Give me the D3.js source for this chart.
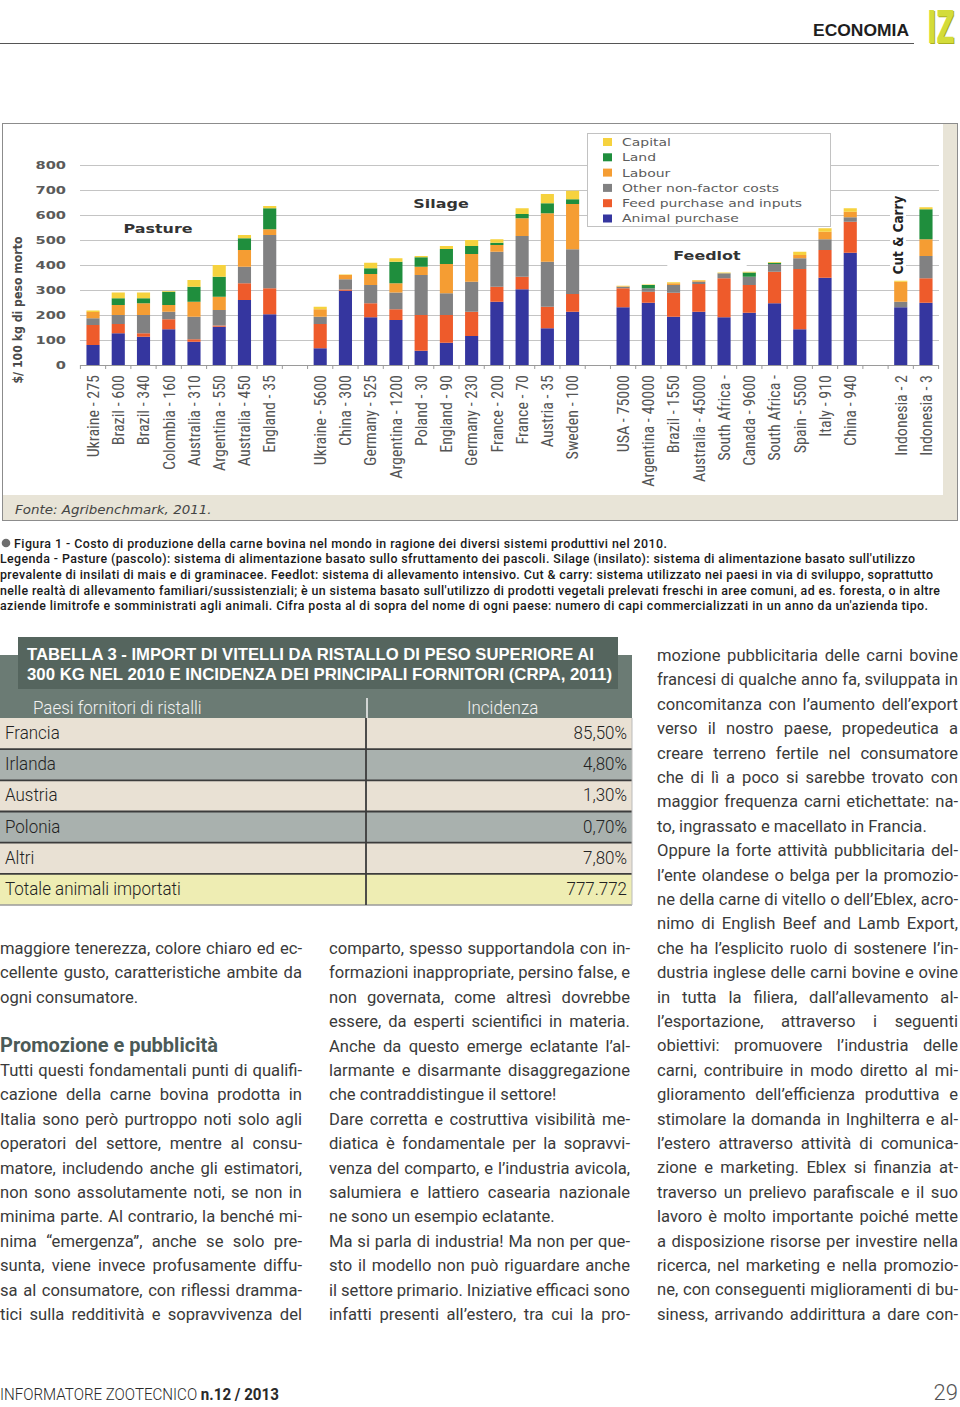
<!DOCTYPE html>
<html><head><meta charset="utf-8">
<script src="https://cdn.jsdelivr.net/npm/d3@7/dist/d3.min.js"></script>
<style>html,body{margin:0;padding:0;background:#fff}svg{display:block}</style>
</head><body>
<script>
// ---------------- DATA ----------------
const categories = [
  "Ukraine - 275","Brazil - 600","Brazil - 340","Colombia - 160","Australia - 310","Argentina - 550","Australia - 450","England - 35",
  "Ukraine - 5600","China - 300","Germany - 525","Argentina - 1200","Poland - 30","England - 90","Germany - 230","France - 200","France - 70","Austria - 35","Sweden - 100",
  "USA - 75000","Argentina - 40000","Brazil - 1550","Australia - 45000","South Africa -","Canada - 9600","South Africa -","Spain - 5500","Italy - 910","China - 940",
  "Indonesia - 2","Indonesia - 3"];
const groups = ["Pasture","Silage","Feedlot","Cut & Carry"];
const groupCounts = [8, 11, 10, 2];
const seriesKeys = ["Animal purchase","Feed purchase and inputs","Other non-factor costs","Labour","Land","Capital"];
const animalPurchase = [80,127,113,143,93,153,260,203, 67,297,191,180,57,89,116,253,303,147,213, 231,249,193,213,191,209,247,143,349,449, 231,249];
const feedPurchase   = [80,37,14,40,10,5,67,104, 97,5,56,43,143,111,97,60,50,86,71, 76,44,96,111,156,111,126,241,111,124, 0,98];
const otherCosts     = [27,36,73,30,90,62,66,213, 29,41,73,67,160,87,120,140,163,180,179, 6,14,31,9,20,33,31,43,43,18, 22,89];
const labour         = [25,40,47,27,60,53,67,23, 30,17,44,37,33,117,111,27,71,194,181, 2,0,7,5,0,0,0,13,30,22, 80,67];
const land           = [0,27,20,53,60,80,47,84, 0,0,23,86,38,60,32,9,17,40,19, 0,13,0,0,0,17,5,0,0,0, 0,120];
const capital        = [6,23,23,3,27,47,13,9, 10,2,22,14,5,12,24,14,23,37,34, 2,2,4,2,3,3,3,13,14,14, 4,8];
const yTicks = [0,100,200,300,400,500,600,700,800];
const legendOrder = ["Capital","Land","Labour","Other non-factor costs","Feed purchase and inputs","Animal purchase"];
const colors = {"Animal purchase":"#35369f","Feed purchase and inputs":"#ee5b2b","Other non-factor costs":"#818182","Labour":"#f59d33","Land":"#1f8e3d","Capital":"#f6d23e"};

const tableTitle = ["TABELLA 3 - IMPORT DI VITELLI DA RISTALLO DI PESO SUPERIORE AI","300 KG NEL 2010 E INCIDENZA DEI PRINCIPALI FORNITORI (CRPA, 2011)"];
const tableHeader = ["Paesi fornitori di ristalli","Incidenza"];
const tableCountries = ["Francia","Irlanda","Austria","Polonia","Altri","Totale animali importati"];
const tableValues = ["85,50%","4,80%","1,30%","0,70%","7,80%","777.772"];

const captionLines = [
 "Figura 1 - Costo di produzione della carne bovina nel mondo in ragione dei diversi sistemi produttivi nel 2010.",
 "Legenda - Pasture (pascolo): sistema di alimentazione basato sullo sfruttamento dei pascoli. Silage (insilato): sistema di alimentazione basato sull'utilizzo",
 "prevalente di insilati di mais e di graminacee. Feedlot: sistema di allevamento intensivo. Cut & carry: sistema utilizzato nei paesi in via di sviluppo, soprattutto",
 "nelle realtà di allevamento familiari/sussistenziali; è un sistema basato sull'utilizzo di prodotti vegetali prelevati freschi in aree comuni, ad es. foresta, o in altre",
 "aziende limitrofe e somministrati agli animali. Cifra posta al di sopra del nome di ogni paese: numero di capi commercializzati in un anno da un'azienda tipo."];

const col1 = ["maggiore tenerezza, colore chiaro ed ec-","cellente gusto, caratteristiche ambite da","ogni consumatore.","",
 "Promozione e pubblicità",
 "Tutti questi fondamentali punti di qualifi-","cazione della carne bovina prodotta in","Italia sono però purtroppo noti solo agli",
 "operatori del settore, mentre al consu-","matore, includendo anche gli estimatori,","non sono assolutamente noti, se non in",
 "minima parte. Al contrario, la benché mi-","nima “emergenza”, anche se solo pre-","sunta, viene invece profusamente diffu-",
 "sa al consumatore, con riflessi dramma-","tici sulla redditività e sopravvivenza del"];
const col2 = ["comparto, spesso supportandola con in-","formazioni inappropriate, persino false, e","non governata, come altresì dovrebbe",
 "essere, da esperti scientifici in materia.","Anche da questo emerge eclatante l’al-","larmante e disarmante disaggregazione",
 "che contraddistingue il settore!","Dare corretta e costruttiva visibilità me-","diatica è fondamentale per la sopravvi-",
 "venza del comparto, e l’industria avicola,","salumiera e lattiero casearia nazionale","ne sono un esempio eclatante.",
 "Ma si parla di industria! Ma non per que-","sto il modello non può riguardare anche","il settore primario. Iniziative efficaci sono",
 "infatti presenti all’estero, tra cui la pro-"];
const col3 = ["mozione pubblicitaria delle carni bovine","francesi di qualche anno fa, sviluppata in","concomitanza con l’aumento dell’export",
 "verso il nostro paese, propedeutica a","creare terreno fertile nel consumatore","che di lì a poco si sarebbe trovato con",
 "maggior frequenza carni etichettate: na-","to, ingrassato e macellato in Francia.","Oppure la forte attività pubblicitaria del-",
 "l’ente olandese o belga per la promozio-","ne della carne di vitello o dell’Eblex, acro-","nimo di English Beef and Lamb Export,",
 "che ha l’esplicito ruolo di sostenere l’in-","dustria inglese delle carni bovine e ovine","in tutta la filiera, dall’allevamento al-",
 "l’esportazione, attraverso i seguenti","obiettivi: promuovere l’industria delle","carni, contribuire in modo diretto al mi-",
 "glioramento dell’efficienza produttiva e","stimolare la domanda in Inghilterra e al-","l’estero attraverso attività di comunica-",
 "zione e marketing. Eblex si finanzia at-","traverso un prelievo parafiscale e il suo","lavoro è molto importante poiché mette",
 "a disposizione risorse per investire nella","ricerca, nel marketing e nella promozio-","ne, con conseguenti miglioramenti di bu-",
 "siness, arrivando addirittura a dare con-"];
const col1Ragged = [2,3], col2Ragged = [6,11], col3Ragged = [7];
const col1Heading = 4;

// ---------------- LAYOUT ----------------
const svg = d3.select("body").append("svg").attr("width",960).attr("height",1407)
  .style("font-family","Roboto, 'Liberation Sans', sans-serif");

function stext(parent, x, y, str, sx, attrs) {
  const g = parent.append("g").attr("transform",`translate(${x},${y}) scale(${sx},1)`);
  const t = g.append("text").text(str);
  Object.entries(attrs||{}).forEach(([k,v])=>t.attr(k,v));
  return t;
}

// header
svg.append("text").attr("x",813).attr("y",36).text("ECONOMIA")
  .attr("font-family","'Liberation Sans', Arial, sans-serif").attr("font-weight","bold").attr("font-size",16.5)
  .attr("fill","#1e1e1e").attr("textLength",96).attr("lengthAdjust","spacingAndGlyphs");
svg.append("line").attr("x1",0).attr("x2",914).attr("y1",43.5).attr("y2",43.5).attr("stroke","#555").attr("stroke-width",1);
svg.append("g").attr("transform","translate(928,44) scale(1.05,1.85)").append("text").text("IZ")
  .attr("font-family","'DejaVu Sans', sans-serif").attr("font-weight","bold").attr("font-size",24).attr("fill","#a9b020");
svg.append("g").attr("transform","translate(927,43) scale(1.05,1.85)").append("text").text("IZ")
  .attr("font-family","'DejaVu Sans', sans-serif").attr("font-weight","bold").attr("font-size",24).attr("fill","#d3dc3a");

// ---------------- CHART ----------------
const chart = svg.append("g").style("font-family","'DejaVu Sans', Verdana, sans-serif");
chart.append("rect").attr("x",2.5).attr("y",123.5).attr("width",955).attr("height",397)
  .attr("fill","#e8e4d7").attr("stroke","#8c8c8c");
chart.append("rect").attr("x",3).attr("y",124).attr("width",940).attr("height",371).attr("fill","#fff");

const slots = [];
{ let ci = 0;
  groups.forEach((g,gi)=>{ for(let k=0;k<groupCounts[gi];k++){ slots.push("c"+ci); ci++; }
    if (gi < groups.length-1) slots.push("gap"+gi); }); }
const catKeys = categories.map((c,i)=>"c"+i);
const labelOf = Object.fromEntries(catKeys.map((k,i)=>[k,categories[i]]));

const x = d3.scaleBand().domain(slots).range([80.4, 938.6]).paddingInner(0.48).paddingOuter(0.24);
const y = d3.scaleLinear().domain([0,800]).range([365,165]);

// grid
chart.append("g").selectAll("line").data(yTicks.filter(v=>v>0)).join("line")
  .attr("x1",80).attr("x2",939).attr("y1",d=>y(d)+0.5).attr("y2",d=>y(d)+0.5)
  .attr("stroke","#c4c4c4").attr("stroke-width",1.2);

// y axis labels
const sxChart = 1.33;
const yAxis = chart.append("g").attr("transform","translate(80,0)")
  .call(d3.axisLeft(y).tickValues(yTicks).tickSize(0).tickPadding(14));
yAxis.select(".domain").remove();
yAxis.selectAll("text").attr("x",-14/sxChart).attr("transform",`scale(${sxChart},1)`)
  .attr("font-family","'DejaVu Sans', Verdana, sans-serif").attr("font-size",11).attr("font-weight","bold").attr("fill","#5a5a5a");

// y title
chart.append("text").attr("transform","translate(18,310) rotate(-90) scale(1,1.15)")
  .attr("text-anchor","middle").attr("dy","0.35em").text("$/ 100 kg di peso morto")
  .attr("font-size",11).attr("font-weight","bold").attr("fill","#4a4a4a");

// stacked bars
const rows = categories.map((c,i)=>({key:"c"+i,
  "Animal purchase":animalPurchase[i],"Feed purchase and inputs":feedPurchase[i],"Other non-factor costs":otherCosts[i],
  "Labour":labour[i],"Land":land[i],"Capital":capital[i]}));
const stacked = d3.stack().keys(seriesKeys)(rows);
chart.append("g").selectAll("g").data(stacked).join("g").attr("fill",s=>colors[s.key])
  .selectAll("rect").data(s=>s).join("rect")
  .attr("x",d=>x(d.data.key)).attr("width",x.bandwidth())
  .attr("y",d=>y(d[1])).attr("height",d=>y(d[0])-y(d[1]));

// x axis
const xAxis = chart.append("g").attr("transform","translate(0,365)")
  .call(d3.axisBottom(x).tickValues(catKeys).tickFormat(k=>labelOf[k]).tickSize(0));
xAxis.select(".domain").attr("stroke","#9a9a9a").attr("d","M80,0.5H939");
xAxis.selectAll("text").attr("transform","rotate(-90)").attr("x",-10).attr("y",0).attr("dy","0.36em")
  .attr("text-anchor","end").attr("font-family","'Liberation Sans Narrow','Roboto Condensed','DejaVu Sans Condensed',sans-serif")
  .attr("font-size",16).attr("fill","#555");
chart.append("g").selectAll("line").data(d3.range(slots.length+1)).join("line")
  .attr("x1",i=>x.range()[0]+i*x.step()).attr("x2",i=>x.range()[0]+i*x.step())
  .attr("y1",365).attr("y2",369).attr("stroke","#999");

// group labels
const groupLabelPos = [{x:158,y:229},{x:441,y:204},{x:707,y:256}];
groupLabelPos.forEach((p,i)=>{
  const t = stext(chart, p.x, p.y, groups[i], sxChart, {"text-anchor":"middle","dy":"0.36em","font-size":12,"font-weight":"bold","fill":"#333"});
  const w = t.node().getComputedTextLength()*sxChart;
  chart.insert("rect", () => t.node().parentNode).attr("x",p.x-w/2-6).attr("y",p.y-11).attr("width",w+12).attr("height",22).attr("fill","#fff");
});
{
  const cx = 898, cy = 235;
  chart.append("rect").attr("x",cx-8).attr("y",cy-42).attr("width",16).attr("height",84).attr("fill","#fff");
  chart.append("text").attr("transform",`translate(${cx},${cy}) rotate(-90) scale(1,1.2)`).attr("text-anchor","middle").attr("dy","0.36em")
    .text(groups[3]).attr("font-size",12).attr("font-weight","bold").attr("fill","#222");
}

// legend
const lg = chart.append("g");
lg.append("rect").attr("x",587.5).attr("y",133.5).attr("width",243).attr("height",93).attr("fill","#fff").attr("stroke","#c2c2c2");
legendOrder.forEach((k,i)=>{
  const yy = 142 + i*15.3;
  lg.append("rect").attr("x",603).attr("y",yy-4).attr("width",9).attr("height",8).attr("fill",colors[k]);
  stext(lg, 622, yy, k, 1.27, {"dy":"0.36em","font-size":11,"fill":"#5c5c5c"});
});

// source
stext(chart, 15, 514, "Fonte: Agribenchmark, 2011.", 1.12, {"font-size":12,"font-style":"italic","fill":"#444"});

// ---------------- CAPTION ----------------
const capEnds = [667, 915, 933, 940, 928];
svg.append("circle").attr("cx",6).attr("cy",543).attr("r",4.3).attr("fill","#6e6e6e");
captionLines.forEach((l,i)=>{
  const x0 = i===0 ? 14 : 0;
  svg.append("text").attr("x",x0).attr("y",547.5+i*15.7).text(l)
    .attr("font-size",12.4).attr("font-weight",500).attr("fill","#1a1a1a")
    .attr("textLength",capEnds[i]-x0).attr("lengthAdjust","spacing");
});

// ---------------- TABLE ----------------
const tb = svg.append("g");
tb.append("rect").attr("x",0).attr("y",655).attr("width",632).attr("height",63).attr("fill","#6b7b74");
tb.append("rect").attr("x",18).attr("y",637).attr("width",600).attr("height",52).attr("fill","#55655e");
const titleW = [567, 585];
tableTitle.forEach((l,i)=>{
  tb.append("text").attr("x",27).attr("y",660+i*19.5).text(l)
    .attr("font-family","'Liberation Sans Narrow','Liberation Sans',Arial,sans-serif").attr("font-weight","bold")
    .attr("font-size",16.5).attr("fill","#fff").attr("textLength",titleW[i]).attr("lengthAdjust","spacingAndGlyphs");
});
tb.append("line").attr("x1",367).attr("x2",367).attr("y1",698).attr("y2",718).attr("stroke","#f4f4f4").attr("stroke-width",1.5);
const tsx = 0.97, tfs = 17.5;
stext(tb, 33, 714, tableHeader[0], tsx, {"font-size":tfs,"font-weight":300,"fill":"#f2f2f2"});
stext(tb, 467, 714, tableHeader[1], tsx, {"font-size":tfs,"font-weight":300,"fill":"#f2f2f2"});
const rowFill = ["#e9e1d4","#a9b1ae","#e9e1d4","#a9b1ae","#e9e1d4","#eeedb3"];
const rowY = d3.scaleBand().domain(d3.range(tableCountries.length)).range([718,905]);
tableCountries.forEach((c,i)=>{
  const y0 = rowY(i), h = rowY.bandwidth();
  tb.append("rect").attr("x",0).attr("y",y0).attr("width",632).attr("height",h).attr("fill",rowFill[i]);
  stext(tb, 5, y0+h/2+5.5, c, tsx, {"font-size":tfs,"font-weight":300,"fill":"#222"});
  stext(tb, 627, y0+h/2+5.5, tableValues[i], tsx, {"font-size":tfs,"font-weight":300,"fill":"#222","text-anchor":"end"});
  if (i>0) tb.append("line").attr("x1",0).attr("x2",632).attr("y1",y0).attr("y2",y0).attr("stroke","#3c3c3c").attr("stroke-width",1.8);
});
tb.append("line").attr("x1",0).attr("x2",632).attr("y1",905).attr("y2",905).attr("stroke","#9a9a9a").attr("stroke-width",1.5);
tb.append("line").attr("x1",366).attr("x2",366).attr("y1",718).attr("y2",905).attr("stroke","#3c3c3c").attr("stroke-width",1.8);
tb.append("line").attr("x1",632).attr("x2",632).attr("y1",718).attr("y2",905).attr("stroke","#bbb").attr("stroke-width",1);

// ---------------- BODY TEXT ----------------
const bodySize = 16.6, lh = 24.4;
function column(lines, x0, y0, width, ragged, heading) {
  lines.forEach((l,i)=>{
    if (!l) return;
    const t = svg.append("text").attr("x",x0).attr("y",y0+i*lh).text(l);
    if (i === heading) {
      t.attr("font-size",20).attr("font-weight","bold").attr("fill","#4b5a57");
      return;
    }
    t.attr("font-size",bodySize).attr("font-weight",400).attr("fill","#3a3a3a");
    if (!ragged.includes(i)) {
      const nat = t.node().getComputedTextLength();
      const sp = (l.match(/ /g)||[]).length;
      if (sp>0) t.style("word-spacing", ((width-nat)/sp)+"px");
    }
  });
}
column(col1, 0, 954, 302, col1Ragged, col1Heading);
column(col2, 329, 954, 301, col2Ragged, -1);
column(col3, 657, 661, 301, col3Ragged, -1);

// ---------------- FOOTER ----------------
const ft = svg.append("g").attr("transform","translate(0,1400) scale(0.89,1)");
const ftx = ft.append("text").attr("font-size",17).attr("fill","#2a2a2a");
ftx.append("tspan").attr("font-weight",300).text("INFORMATORE ZOOTECNICO ");
ftx.append("tspan").attr("font-weight","bold").text("n.12 / 2013");
svg.append("text").attr("x",958).attr("y",1400).attr("text-anchor","end").text("29")
  .attr("font-size",22).attr("font-weight",300).attr("fill","#555");
</script>
</body></html>
